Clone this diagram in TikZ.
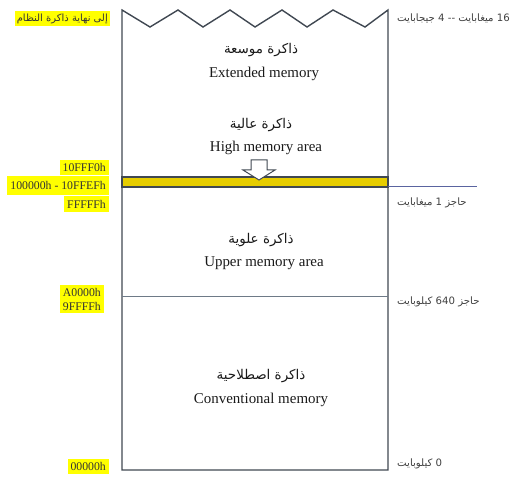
\documentclass[tikz,border=0pt]{standalone}
\usepackage{fontspec}
\setmainfont{Liberation Serif}
\newfontfamily\arabicfont[Script=Arabic]{DejaVu Sans}
\TeXXeTstate=1
\definecolor{borderc}{RGB}{64,72,82}
\definecolor{bandc}{RGB}{230,205,0}
\definecolor{hiy}{RGB}{255,255,0}
\definecolor{linec}{RGB}{90,100,160}
\definecolor{divc}{RGB}{110,122,135}
\definecolor{rtext}{RGB}{64,64,64}
\tikzset{
  hl/.style={fill=hiy, anchor=east, inner xsep=3bp, inner ysep=0pt, minimum height=15bp, font=\fontsize{11.8}{13}\selectfont, text=black!80},
  ar/.style={font=\arabicfont\fontsize{13.5}{15}\selectfont, text=black!90},
  en/.style={font=\fontsize{15}{17}\selectfont, text=black!90},
  rl/.style={anchor=west, font=\arabicfont\fontsize{10.2}{12}\selectfont, text=rtext, inner sep=0pt},
}
\begin{document}
\begin{tikzpicture}[x=1bp,y=-1bp]
\useasboundingbox (0,0) rectangle (513,479);
% main outline with zigzag top
\draw[borderc, line width=1.4bp, line join=miter]
  (122,470) -- (122,10) -- (150,27) -- (178,10) -- (203,27) -- (230,10) -- (255,27)
  -- (282,10) -- (307,27) -- (333,10) -- (365,27) -- (388,10) -- (388,470) -- cycle;
% band
\draw[borderc, line width=1.2bp, fill=bandc] (122,177) rectangle (388,187);
% divider
\draw[divc, line width=1bp] (122,296) -- (388,296);
% right extension line
\coordinate (bandR) at (388,187);
\coordinate (lineE) at (477,187);
\draw[linec, line width=1bp] (bandR) -- (lineE);
% arrow
\draw[borderc, line width=1bp, fill=white, line join=miter]
  (251,160) -- (267,160) -- (267,170) -- (275,170) -- (259,180) -- (243,170) -- (251,170) -- cycle;
% centre labels
\node[ar] (extA) at (261,50) {\beginR ذاكرة موسعة\endR};
\node[en] (extE) at (264,74) {Extended memory};
\node[ar] (hiA) at (261,125) {\beginR ذاكرة عالية\endR};
\node[en] (hiE) at (266,148) {High memory area};
\node[ar] (upA) at (261,240) {\beginR ذاكرة علوية\endR};
\node[en] (upE) at (264,263) {Upper memory area};
\node[ar] (coA) at (261,376) {\beginR ذاكرة اصطلاحية\endR};
\node[en] (coE) at (261,400) {Conventional memory};
% left highlighted labels
\node[hl, font=\arabicfont\fontsize{10}{11}\selectfont, inner xsep=2bp, minimum height=15bp] (sys) at (110,19) {\beginR إلى نهاية ذاكرة النظام\endR};
\node[hl, minimum height=15bp] (a1) at (109,167.5) {10FFF0h};
\node[hl, minimum height=19bp] (a2) at (109,185.5) {100000h - 10FFEFh};
\node[hl, minimum height=16bp] (a3) at (109,204) {FFFFFh};
\node[hl, minimum height=14bp] (a4) at (104,292) {A0000h};
\node[hl, minimum height=14bp] (a5) at (104,306) {9FFFFh};
\node[hl, minimum height=15bp] (a6) at (109,466) {00000h};
% right labels
\node[rl] (r1) at (397,18) {\beginR \beginL 16\endL{} ميغابايت -- \beginL 4\endL{} جيجابايت\endR};
\node[rl] (r2) at (397,203) {\beginR حاجز \beginL 1\endL{} ميغابايت\endR};
\node[rl] (r3) at (397,302) {\beginR حاجز \beginL 640\endL{} كيلوبايت\endR};
\node[rl] (r4) at (397,464) {\beginR \beginL 0\endL{} كيلوبايت\endR};
\end{tikzpicture}
\end{document}
